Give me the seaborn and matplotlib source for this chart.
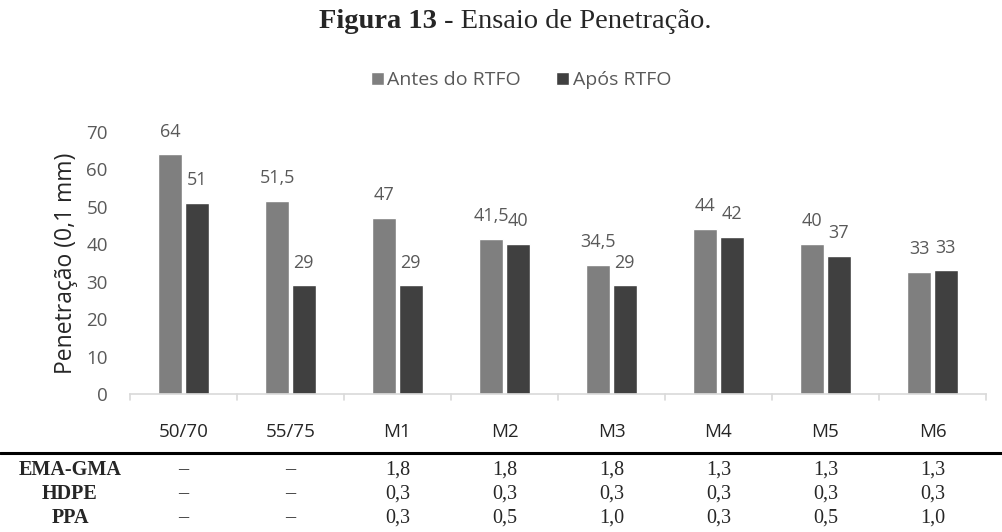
import pandas as pd
import numpy as np
import matplotlib.pyplot as plt
import seaborn as sns

categories = ["50/70", "55/75", "M1", "M2", "M3", "M4", "M5", "M6"]
antes = [64, 51.5, 47, 41.5, 34.5, 44, 40, 32.6]
apos = [51, 29, 29, 40, 29, 42, 37, 33]
antes_labels = ["64", "51,5", "47", "41,5", "34,5", "44", "40", "33"]
apos_labels = ["51", "29", "29", "40", "29", "42", "37", "33"]
series = ["Antes do RTFO", "Após RTFO"]

row_names = ["EMA-GMA", "HDPE", "PPA"]
ema_gma = ["–", "–", "1,8", "1,8", "1,8", "1,3", "1,3", "1,3"]
hdpe = ["–", "–", "0,3", "0,3", "0,3", "0,3", "0,3", "0,3"]
ppa = ["–", "–", "0,3", "0,5", "1,0", "0,3", "0,5", "1,0"]

df = pd.DataFrame({
    "cat": categories * 2,
    "val": antes + apos,
    "serie": [series[0]] * len(categories) + [series[1]] * len(categories),
})

sns.set_style("white")
plt.rcParams["font.family"] = ["Open Sans", "DejaVu Sans"]
txt = "#595959"

fig = plt.figure(figsize=(10.03, 5.32), dpi=100)
ax = fig.add_axes([130 / 1003, 1 - 394 / 532, (986 - 130) / 1003, (394 - 132) / 532])

sns.barplot(data=df, x="cat", y="val", hue="serie", order=categories,
            hue_order=series, palette=["#7f7f7f", "#404040"],
            width=0.5, gap=0.12, ax=ax, legend=True)

for cont, labs in zip(ax.containers, [antes_labels, apos_labels]):
    ax.bar_label(cont, labels=labs, padding=10, fontsize=13, color=txt, clip_on=False)

ax.set_ylim(0, 70)
ax.set_xlim(-0.5, len(categories) - 0.5)
ax.set_yticks(range(0, 71, 10))
ax.set_xlabel("")
ax.set_ylabel("Penetração (0,1 mm)", fontsize=16.5, color="#262626", labelpad=6)
ax.tick_params(axis="y", labelsize=13.5, colors=txt, length=0, pad=16)
ax.tick_params(axis="x", labelsize=13.5, colors="#262626", length=0, pad=21)
for s in ["top", "right", "left"]:
    ax.spines[s].set_visible(False)
ax.spines["bottom"].set_color("#d9d9d9")
ax.spines["bottom"].set_linewidth(1.2)
for b in np.arange(-0.5, len(categories), 1.0):
    ax.plot([b, b], [0, -1.6], color="#d9d9d9", lw=1.2, clip_on=False)

handles, labels = ax.get_legend_handles_labels()
ax.legend(handles, labels, loc="center", bbox_to_anchor=(0.5195, 1 - 80 / 532),
          bbox_transform=fig.transFigure, ncol=2, frameon=False,
          fontsize=14, labelcolor=txt, handlelength=0.65, handleheight=0.65,
          handletextpad=0.2, columnspacing=1.8)

fig.text(437 / 1003, 1 - 22 / 532, "Figura 13", ha="right", va="center",
         family="Liberation Serif", fontweight="bold", fontsize=20.5)
fig.text(437 / 1003, 1 - 22 / 532, " - Ensaio de Penetração.", ha="left", va="center",
         family="Liberation Serif", fontsize=20.5)

# tabela abaixo
fig.add_artist(plt.Line2D([0, 1], [1 - 453 / 532, 1 - 453 / 532], color="black", lw=2.2))
rows = [ema_gma, hdpe, ppa]
ys = [470, 494, 518]
for name, vals, yy in zip(row_names, rows, ys):
    yf = 1 - yy / 532
    fig.text(70 / 1003, yf, name, ha="center", va="center", family="Liberation Serif",
             fontweight="bold", fontsize=14.5)
    for i, v in enumerate(vals):
        xd = ax.transData.transform((i, 0))[0]
        xf = fig.transFigure.inverted().transform((xd, 0))[0]
        fig.text(xf, yf, v, ha="center", va="center", family="Liberation Serif", fontsize=14.5)

fig.savefig("out.png", dpi=100)
